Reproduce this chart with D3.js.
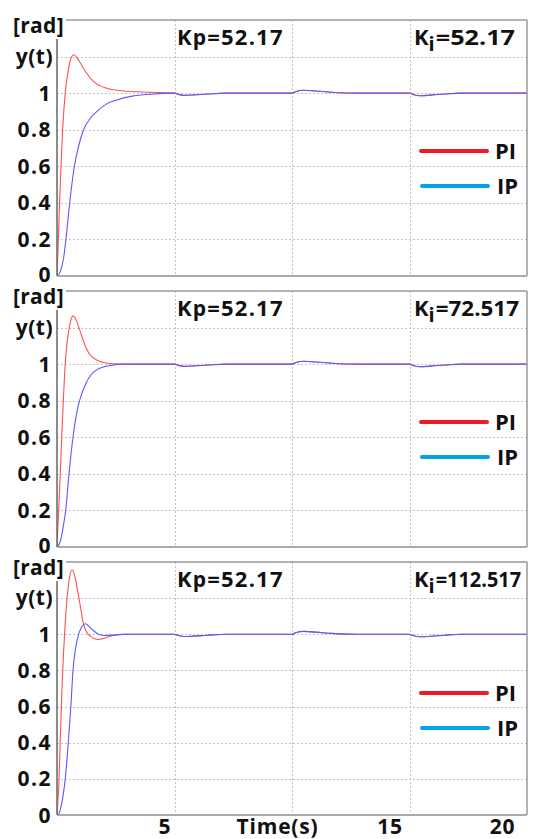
<!DOCTYPE html>
<html>
<head>
<meta charset="utf-8">
<script src="https://cdn.jsdelivr.net/npm/d3@7"></script>
<style>
  html, body { margin: 0; padding: 0; background: #fff; }
  svg { display: block; }
  text { font-family: "Open Sans", "Noto Sans", sans-serif; font-weight: 700; fill: #111; }
</style>
</head>
<body>
<svg id="chart" width="549" height="839"></svg>
<script>
// ---------------- DATA ----------------
const xTickValues = [5, 10, 15, 20];
const xTickLabels = ["5", "Time(s)", "15", "20"];
const yTickValues = [0, 0.2, 0.4, 0.6, 0.8, 1];
const yTickLabels = ["0", "0.2", "0.4", "0.6", "0.8", "1"];
const yGridValues = [0.2, 0.4, 0.6, 0.8, 1.0, 1.2];
const xGridValues = [5, 10, 15];

const kpLabels = ["52.17", "52.17", "52.17"];
const kiLabels = ["52.17", "72.517", "112.517"];
const legendNames = ["PI", "IP"];

// disturbance tail shared by all curves (after settling)
const tailT = [5.0, 5.15, 5.4, 5.8, 6.4, 7.2, 10.0, 10.15, 10.5, 11.0, 11.7, 12.8, 15.0, 15.15, 15.45, 15.9, 16.5, 17.2, 20];
const tailV = [1.0, 0.994, 0.988, 0.99, 0.995, 1.0, 1.0, 1.008, 1.016, 1.012, 1.005, 1.0, 1.0, 0.993, 0.986, 0.989, 0.995, 1.0, 1.0];

// Panel 1 (Ki = 52.17)
const p1PI_t = [0, 0.03, 0.057, 0.11, 0.17, 0.24, 0.35, 0.45, 0.57, 0.71, 0.92, 1.13, 1.56, 2.12, 2.83, 3.97, 4.6];
const p1PI_v = [0, 0.1, 0.2, 0.4, 0.6, 0.8, 1.0, 1.1, 1.18, 1.21, 1.18, 1.135, 1.063, 1.027, 1.012, 1.005, 1.002];
const p1IP_t = [0, 0.14, 0.28, 0.38, 0.54, 0.74, 0.9, 1.13, 1.4, 1.7, 2.1, 2.55, 3.26, 3.97, 4.6];
const p1IP_v = [0, 0.024, 0.097, 0.2, 0.4, 0.6, 0.7, 0.8, 0.86, 0.9, 0.94, 0.963, 0.985, 0.994, 0.999];

// Panel 2 (Ki = 72.517)
const p2PI_t = [0, 0.035, 0.07, 0.14, 0.2, 0.28, 0.35, 0.42, 0.52, 0.6, 0.68, 0.76, 0.85, 0.99, 1.13, 1.27, 1.42, 1.56, 1.98, 2.4, 3.0, 4.6];
const p2PI_v = [0, 0.1, 0.2, 0.4, 0.6, 0.83, 1.0, 1.106, 1.2, 1.245, 1.264, 1.255, 1.23, 1.178, 1.125, 1.08, 1.05, 1.033, 1.009, 1.002, 1.0, 1.0];
const p2IP_t = [0, 0.14, 0.28, 0.37, 0.51, 0.68, 0.85, 0.96, 1.25, 1.7, 2.27, 2.83, 4.6];
const p2IP_v = [0, 0.03, 0.122, 0.2, 0.4, 0.6, 0.74, 0.8, 0.9, 0.97, 0.993, 1.0, 1.0];

// Panel 3 (Ki = 112.517)
const p3PI_t = [0, 0.035, 0.07, 0.14, 0.21, 0.35, 0.5, 0.64, 0.78, 0.92, 1.0, 1.13, 1.27, 1.42, 1.6, 1.77, 2.0, 2.4, 2.8, 4.6];
const p3PI_v = [0, 0.07, 0.144, 0.42, 0.695, 1.063, 1.284, 1.357, 1.31, 1.21, 1.15, 1.055, 1.01, 0.99, 0.975, 0.971, 0.978, 0.993, 1.0, 1.0];
const p3IP_t = [0, 0.07, 0.14, 0.25, 0.35, 0.48, 0.59, 0.68, 0.8, 0.92, 1.05, 1.2, 1.49, 1.77, 2.05, 2.55, 2.9, 4.6];
const p3IP_v = [0, 0.005, 0.03, 0.1, 0.2, 0.4, 0.6, 0.8, 0.93, 1.0, 1.04, 1.058, 1.027, 1.0, 0.993, 0.997, 1.0, 1.0];

const piT = [p1PI_t, p2PI_t, p3PI_t];
const piV = [p1PI_v, p2PI_v, p3PI_v];
const ipT = [p1IP_t, p2IP_t, p3IP_t];
const ipV = [p1IP_v, p2IP_v, p3IP_v];

// ---------------- LAYOUT ----------------
const W = 549, H = 839;
const left = 57, right = 527;
const tops = [20, 291, 562];
const bottoms = [276, 547, 815];
const kiRightEdges = [515, 519, 521];
const colPI = "#ff5050", colIP = "#5a5aff";
const legPI = "#ed1c24", legIP = "#00a2e8";

const svg = d3.select("#chart");
svg.append("rect").attr("width", W).attr("height", H).attr("fill", "#fff");

const x = d3.scaleLinear().domain([0, 20]).range([left, right]);
const xLabel = d3.scaleLinear().domain([0, 20]).range([52.5, 502.5]);

function series(ts, vs) {
  const pts = ts.map((t, i) => [t, vs[i]]);
  tailT.forEach((t, i) => { if (t > ts[ts.length - 1]) pts.push([t, tailV[i]]); });
  return pts;
}

const layerGrid = svg.append("g");
const layerCurves = svg.append("g");
const layerFrame = svg.append("g");
const layerText = svg.append("g");

tops.forEach((top, pi) => {
  const bottom = bottoms[pi];
  const y = d3.scaleLinear().domain([0, 1.4]).range([bottom, top]);

  // gridlines
  layerGrid.append("g").selectAll("line").data(yGridValues).join("line")
    .attr("x1", left).attr("x2", right)
    .attr("y1", d => Math.round(y(d)) + 0.5).attr("y2", d => Math.round(y(d)) + 0.5)
    .attr("stroke", "#c4c4c4").attr("stroke-width", 1).attr("stroke-dasharray", "2,2");
  layerGrid.append("g").selectAll("line").data(xGridValues).join("line")
    .attr("x1", d => Math.round(x(d)) + 0.5).attr("x2", d => Math.round(x(d)) + 0.5)
    .attr("y1", top).attr("y2", bottom)
    .attr("stroke", "#c4c4c4").attr("stroke-width", 1).attr("stroke-dasharray", "2,2");

  // curves
  const clipId = "clip" + pi;
  svg.append("clipPath").attr("id", clipId).append("rect")
    .attr("x", left).attr("y", top - 1).attr("width", right - left).attr("height", bottom - top + 1);
  const line = d3.line().x(d => x(d[0])).y(d => y(d[1])).curve(d3.curveMonotoneX);
  layerCurves.append("path").datum(series(piT[pi], piV[pi]))
    .attr("d", line).attr("fill", "none").attr("stroke", colPI).attr("stroke-width", 1.1)
    .attr("clip-path", `url(#${clipId})`);
  layerCurves.append("path").datum(series(ipT[pi], ipV[pi]))
    .attr("d", line).attr("fill", "none").attr("stroke", colIP).attr("stroke-width", 1.1)
    .attr("clip-path", `url(#${clipId})`);

  // frame
  const f = layerFrame.append("g");
  f.append("line").attr("x1", left).attr("x2", right).attr("y1", top).attr("y2", top)
    .attr("stroke", "#999").attr("stroke-width", 1.5);
  f.append("line").attr("x1", right).attr("x2", right).attr("y1", top).attr("y2", bottom)
    .attr("stroke", "#999").attr("stroke-width", 1.5);
  f.append("line").attr("x1", left).attr("x2", right).attr("y1", bottom).attr("y2", bottom)
    .attr("stroke", "#aaa").attr("stroke-width", 2);
  f.append("line").attr("x1", left).attr("x2", left).attr("y1", top).attr("y2", bottom)
    .attr("stroke", "#666").attr("stroke-width", 1.5);

  const g = layerText.append("g");

  // [rad] with small white patch hiding the frame corner
  const radBase = Math.max(top + 13, 22);
  const rad = g.append("text").attr("x", 13).attr("y", radBase)
    .attr("font-size", 21).attr("letter-spacing", 0.3).text("[rad]");
  const bb = rad.node().getBBox();
  g.insert("rect", () => rad.node())
    .attr("x", left - 4).attr("y", top - 3)
    .attr("width", bb.x + bb.width + 2 - (left - 4)).attr("height", radBase + 6 - (top - 3))
    .attr("fill", "#fff");

  // y tick labels
  g.selectAll(".yl").data(yTickValues).join("text")
    .attr("class", "yl")
    .attr("x", left - 5).attr("y", d => y(d) + (d === 0 && pi < 2 ? 6 : 7.5))
    .attr("text-anchor", "end").attr("font-size", 21).attr("letter-spacing", 1.5)
    .text((d, i) => yTickLabels[i]);
  g.append("text").attr("x", left - 4).attr("y", y(1.2) + 7)
    .attr("text-anchor", "end").attr("font-size", 21).attr("letter-spacing", 0.5).text("y(t)");

  // gain labels
  const kp = g.append("text").attr("x", 177).attr("y", top + 25).attr("font-size", 22).attr("letter-spacing", 1.2);
  kp.append("tspan").text("K");
  kp.append("tspan").attr("font-size", 21).text("p");
  kp.append("tspan").text("=" + kpLabels[pi]);

  const ki = g.append("text").attr("x", 414).attr("y", top + 25).attr("font-size", 22);
  ki.append("tspan").text("K");
  ki.append("tspan").attr("font-size", 20).attr("dy", 6).text("i");
  const kiEnd = 414 + ki.node().getComputedTextLength() + 1;
  g.append("text").attr("x", kiEnd).attr("y", top + 25).attr("font-size", 22)
    .attr("textLength", kiRightEdges[pi] - kiEnd).attr("lengthAdjust", "spacingAndGlyphs")
    .text("=" + kiLabels[pi]);

  // legend
  const legY = [top + 131, top + 166];
  const legCols = [legPI, legIP];
  legendNames.forEach((name, k) => {
    g.append("line").attr("x1", 421 + k).attr("x2", 487 + k)
      .attr("y1", legY[k]).attr("y2", legY[k])
      .attr("stroke", legCols[k]).attr("stroke-width", 4).attr("stroke-linecap", "round");
    g.append("text").attr("x", 495 + k * 2).attr("y", legY[k] + 8)
      .attr("font-size", 22).text(name);
  });
});

// bottom x labels
layerText.selectAll(".xl").data(xTickValues).join("text")
  .attr("class", "xl")
  .attr("x", d => xLabel(d)).attr("y", 834)
  .attr("text-anchor", "middle").attr("font-size", 21).attr("letter-spacing", 0.8)
  .text((d, i) => xTickLabels[i]);
</script>
</body>
</html>
